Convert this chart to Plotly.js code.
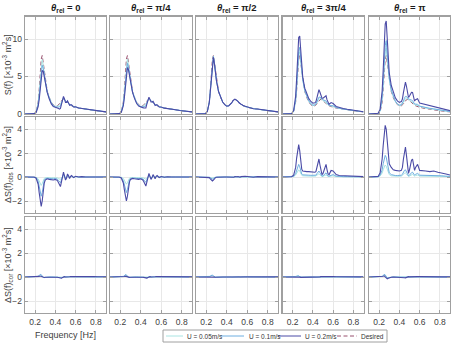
<!DOCTYPE html>
<html><head><meta charset="utf-8">
<script src="https://cdn.plot.ly/plotly-3.0.1.min.js"></script>
<style>html,body{margin:0;padding:0;background:#fff}#chart{width:454px;height:343px}</style>
</head><body><div id="chart"></div>
<script>
// ---------- data ----------
const freq = [0.10,0.15,0.19,0.21,0.23,0.24,0.25,0.26,0.27,0.28,0.29,0.30,0.32,0.34,0.36,0.38,0.40,0.42,0.43,0.44,0.45,0.46,0.47,0.48,0.49,0.50,0.51,0.52,0.53,0.54,0.55,0.56,0.58,0.60,0.63,0.66,0.70,0.74,0.78,0.82,0.86,0.90];
const columnTitles = ['0','π/4','π/2','3π/4','π'];
const seriesNames = ['U = 0.05m/s','U = 0.1m/s','U = 0.2m/s','Desired'];
const xTicks = [0.2,0.4,0.6,0.8];
const yTicksS = [0,5,10];
const yTicksD = [-2,0,2,4];

const desired = [0,0,0.05,0.3,1.6,3.2,5.2,7.3,7.8,6.8,5.5,4.4,3.0,2.2,1.6,1.25,1.05,1.1,1.2,1.35,1.55,1.75,1.9,1.95,1.9,1.8,1.65,1.5,1.38,1.28,1.18,1.1,0.98,0.9,0.8,0.72,0.63,0.55,0.47,0.4,0.34,0.28];

// Row 1: S(f) observed, per heading (col) and speed (a=0.05, b=0.1, c=0.2 m/s)
const s0_a = [0,0,0.05,0.28,1.45,2.85,4.6,6.6,7.25,6.5,5.38,4.34,2.96,2.15,1.54,1.19,1.0,1.02,1.08,1.17,1.35,1.65,1.93,2.05,1.92,1.74,1.63,1.56,1.4,1.25,1.19,1.13,0.97,0.92,0.8,0.72,0.63,0.55,0.47,0.4,0.34,0.28];
const s0_b = [0,0,0.05,0.25,1.25,2.4,3.8,5.7,6.5,6.1,5.2,4.25,2.9,2.08,1.45,1.1,0.93,0.92,0.92,0.93,1.07,1.5,1.98,2.19,1.96,1.65,1.59,1.65,1.44,1.21,1.21,1.17,0.95,0.94,0.8,0.74,0.63,0.55,0.47,0.4,0.34,0.28];
const s0_c = [0,0,0.05,0.2,1.0,1.9,3.0,4.85,5.8,5.7,5.0,4.15,2.85,2.0,1.35,1.0,0.85,0.8,0.75,0.65,0.75,1.35,2.05,2.35,2.0,1.55,1.55,1.75,1.48,1.16,1.23,1.22,0.93,0.96,0.8,0.75,0.63,0.55,0.47,0.4,0.34,0.28];
const s1_a = [0,0,0.05,0.28,1.48,2.9,4.7,6.7,7.32,6.55,5.4,4.35,2.97,2.16,1.55,1.2,1.01,1.04,1.1,1.2,1.37,1.66,1.93,2.03,1.91,1.75,1.64,1.55,1.39,1.24,1.19,1.13,0.97,0.91,0.8,0.72,0.63,0.55,0.47,0.4,0.34,0.28];
const s1_b = [0,0,0.05,0.25,1.3,2.55,4.1,6.0,6.75,6.25,5.25,4.28,2.92,2.1,1.48,1.13,0.95,0.95,0.95,1.0,1.1,1.53,1.96,2.13,1.93,1.68,1.62,1.62,1.41,1.19,1.21,1.17,0.95,0.92,0.79,0.73,0.63,0.55,0.47,0.4,0.34,0.28];
const s1_c = [0,0,0.05,0.22,1.1,2.15,3.4,5.3,6.2,5.9,5.1,4.2,2.88,2.05,1.4,1.05,0.9,0.85,0.8,0.75,0.8,1.35,2.0,2.25,1.95,1.6,1.6,1.7,1.43,1.13,1.23,1.22,0.93,0.94,0.78,0.74,0.63,0.56,0.47,0.4,0.34,0.28];
const s2_a = [0,0,0.05,0.3,1.59,3.17,5.14,7.22,7.74,6.77,5.49,4.4,3.0,2.2,1.6,1.25,1.05,1.1,1.2,1.35,1.54,1.75,1.9,1.96,1.9,1.8,1.66,1.5,1.38,1.29,1.19,1.1,0.99,0.91,0.8,0.72,0.64,0.55,0.47,0.4,0.34,0.28];
const s2_b = [0,0,0.05,0.3,1.58,3.13,5.06,7.13,7.67,6.74,5.48,4.39,3.0,2.2,1.6,1.25,1.05,1.1,1.2,1.34,1.53,1.76,1.89,1.97,1.9,1.81,1.67,1.5,1.37,1.3,1.21,1.11,1.01,0.92,0.81,0.71,0.65,0.56,0.47,0.4,0.34,0.28];
const s2_c = [0,0,0.05,0.3,1.55,3.05,4.92,6.97,7.55,6.68,5.45,4.38,3.0,2.2,1.6,1.25,1.05,1.1,1.2,1.33,1.51,1.77,1.88,1.98,1.9,1.82,1.69,1.5,1.36,1.31,1.23,1.12,1.04,0.94,0.82,0.7,0.66,0.57,0.47,0.41,0.34,0.28];
const s3_a = [0,0,0.05,0.33,1.77,3.55,5.75,7.9,8.3,7.06,5.64,4.5,3.08,2.28,1.68,1.32,1.12,1.17,1.28,1.5,1.79,2.02,2.08,2.03,1.94,1.85,1.75,1.66,1.56,1.38,1.22,1.14,1.06,1.0,0.84,0.74,0.65,0.56,0.48,0.41,0.34,0.28];
const s3_b = [0,0,0.06,0.36,1.9,3.8,6.15,8.35,8.9,7.25,5.75,4.58,3.15,2.35,1.75,1.39,1.18,1.23,1.35,1.63,2.0,2.25,2.25,2.1,1.98,1.9,1.85,1.8,1.73,1.48,1.26,1.17,1.13,1.1,0.87,0.76,0.66,0.58,0.49,0.42,0.35,0.29];
const s3_c = [0,0,0.07,0.45,2.4,4.8,7.65,10.2,10.4,8.0,6.15,4.9,3.45,2.65,2.05,1.67,1.45,1.5,1.65,2.15,2.85,3.25,2.9,2.35,2.1,2.1,2.25,2.4,2.43,1.88,1.43,1.3,1.53,1.4,1.0,0.84,0.73,0.63,0.53,0.45,0.38,0.31];
const s4_a = [0,0,0.06,0.38,1.93,3.8,6.1,8.3,8.8,7.4,5.83,4.6,3.1,2.28,1.66,1.31,1.11,1.18,1.32,1.57,1.85,2.08,2.15,2.05,1.95,1.88,1.8,1.7,1.6,1.42,1.26,1.22,1.14,0.98,0.88,0.79,0.7,0.62,0.53,0.45,0.38,0.31];
const s4_b = [0,0,0.07,0.45,2.2,4.3,6.8,9.1,9.8,7.9,6.1,4.75,3.2,2.35,1.72,1.37,1.17,1.25,1.42,1.75,2.1,2.35,2.35,2.15,2.0,1.95,1.93,1.86,1.78,1.53,1.33,1.32,1.28,1.05,0.95,0.86,0.76,0.69,0.58,0.5,0.41,0.33];
const s4_c = [0,0,0.1,0.65,3.1,5.8,9.0,12.0,12.4,10.0,7.1,5.5,3.8,2.8,2.15,1.75,1.55,1.65,2.0,2.85,3.75,4.25,3.7,2.75,2.2,2.4,2.75,2.9,2.88,2.18,1.73,1.9,2.03,1.45,1.35,1.22,1.08,1.05,0.87,0.75,0.59,0.45];

// Row 2: ΔS(f)_obs
const d0_a = [0,0,0,-0.02,-0.15,-0.35,-0.6,-0.7,-0.55,-0.3,-0.12,-0.06,-0.04,-0.05,-0.06,-0.06,-0.05,-0.08,-0.12,-0.18,-0.2,-0.1,0.03,0.1,0.02,-0.06,-0.02,0.06,0.02,-0.03,0.01,0.03,-0.01,0.02,0,0,0,0,0,0,0,0];
const d0_b = [0,0,0,-0.05,-0.35,-0.8,-1.4,-1.6,-1.3,-0.7,-0.3,-0.15,-0.1,-0.12,-0.15,-0.15,-0.12,-0.18,-0.28,-0.42,-0.48,-0.25,0.08,0.24,0.06,-0.15,-0.06,0.15,0.06,-0.07,0.03,0.07,-0.03,0.04,0,0.02,0,0,0,0,0,0];
const d0_c = [0,0,0,-0.1,-0.6,-1.3,-2.2,-2.45,-2.0,-1.1,-0.5,-0.25,-0.15,-0.2,-0.25,-0.25,-0.2,-0.3,-0.45,-0.7,-0.8,-0.4,0.15,0.4,0.1,-0.25,-0.1,0.25,0.1,-0.12,0.05,0.12,-0.05,0.06,0,0.03,0,0,0,0,0,0];
const d1_a = [0,0,0,-0.02,-0.12,-0.3,-0.5,-0.6,-0.48,-0.25,-0.1,-0.05,-0.03,-0.04,-0.05,-0.05,-0.04,-0.06,-0.1,-0.15,-0.18,-0.09,0.03,0.08,0.01,-0.05,-0.01,0.05,0.01,-0.04,0.01,0.03,-0.01,0.01,0,0,0,0,0,0,0,0];
const d1_b = [0,0,0,-0.05,-0.3,-0.65,-1.1,-1.3,-1.05,-0.55,-0.25,-0.12,-0.08,-0.1,-0.12,-0.12,-0.1,-0.15,-0.25,-0.35,-0.45,-0.22,0.06,0.18,0.03,-0.12,-0.03,0.12,0.03,-0.09,0.03,0.07,-0.03,0.02,-0.01,0.01,0,0,0,0,0,0];
const d1_c = [0,0,0,-0.08,-0.5,-1.05,-1.8,-2.0,-1.6,-0.9,-0.4,-0.2,-0.12,-0.15,-0.2,-0.2,-0.15,-0.25,-0.4,-0.6,-0.75,-0.4,0.1,0.3,0.05,-0.2,-0.05,0.2,0.05,-0.15,0.05,0.12,-0.05,0.04,-0.02,0.02,0,0.01,0,0,0,0];
const d2_a = [0,0,0,0,-0.01,-0.03,-0.06,-0.08,-0.06,-0.03,-0.01,0,0,0,0,0,0,0,0,0,-0.01,0,0,0.01,0,0,0.01,0,0,0.01,0.01,0,0.01,0.01,0,0,0.01,0,0,0,0,0];
const d2_b = [0,0,0,0,-0.02,-0.07,-0.14,-0.17,-0.13,-0.06,-0.02,-0.01,0,0,0,0,0,0,0,-0.01,-0.02,0.01,-0.01,0.02,0,0.01,0.02,0,-0.01,0.02,0.03,0.01,0.03,0.02,0.01,-0.01,0.02,0.01,0,0,0,0];
const d2_c = [0,0,0,0,-0.05,-0.15,-0.28,-0.33,-0.25,-0.12,-0.05,-0.02,0,0,0,0,0,0,0,-0.02,-0.04,0.02,-0.02,0.03,0,0.02,0.04,0,-0.02,0.03,0.05,0.02,0.06,0.04,0.02,-0.02,0.03,0.02,0,0.01,0,0];
const d3_a = [0,0,0,0.03,0.17,0.35,0.55,0.6,0.5,0.26,0.14,0.1,0.08,0.08,0.08,0.07,0.07,0.07,0.08,0.15,0.24,0.27,0.18,0.08,0.04,0.05,0.1,0.16,0.18,0.1,0.04,0.04,0.08,0.1,0.04,0.02,0.02,0.01,0.01,0.01,0,0];
const d3_b = [0,0,0.01,0.06,0.3,0.6,0.95,1.05,0.85,0.45,0.25,0.18,0.15,0.15,0.15,0.14,0.13,0.13,0.15,0.28,0.45,0.5,0.35,0.15,0.08,0.1,0.2,0.3,0.35,0.2,0.08,0.07,0.15,0.2,0.07,0.04,0.03,0.03,0.02,0.02,0.01,0.01];
const d3_c = [0,0,0.02,0.15,0.8,1.6,2.45,2.7,2.2,1.2,0.65,0.5,0.45,0.45,0.45,0.42,0.4,0.4,0.45,0.8,1.3,1.5,1.0,0.4,0.2,0.3,0.6,0.9,1.05,0.6,0.25,0.2,0.55,0.5,0.2,0.12,0.1,0.08,0.06,0.05,0.04,0.03];
const d4_a = [0,0,0.01,0.08,0.33,0.6,0.9,1.0,0.9,0.6,0.33,0.2,0.1,0.08,0.06,0.06,0.06,0.08,0.12,0.22,0.3,0.33,0.25,0.1,0.05,0.08,0.15,0.2,0.22,0.14,0.08,0.12,0.16,0.08,0.08,0.07,0.07,0.07,0.06,0.05,0.04,0.03];
const d4_b = [0,0,0.02,0.15,0.6,1.1,1.6,1.8,1.65,1.1,0.6,0.35,0.2,0.15,0.12,0.12,0.12,0.15,0.22,0.4,0.55,0.6,0.45,0.2,0.1,0.15,0.28,0.36,0.4,0.25,0.15,0.22,0.3,0.15,0.15,0.14,0.13,0.14,0.11,0.1,0.07,0.05];
const d4_c = [0,0,0.05,0.35,1.5,2.6,3.8,4.3,4.0,2.8,1.6,1.1,0.8,0.6,0.55,0.5,0.5,0.55,0.8,1.5,2.2,2.5,1.8,0.8,0.3,0.6,1.1,1.4,1.5,0.9,0.55,0.8,1.05,0.55,0.55,0.5,0.45,0.5,0.4,0.35,0.25,0.17];

// Row 3: ΔS(f)_cor
const c0_a = [0,0,0,0,0.04,0.1,0.17,0.15,0.04,-0.02,-0.03,-0.02,-0.01,0,0,0,0,-0.01,-0.02,-0.03,-0.03,-0.05,-0.02,0.01,0.01,0,0.01,0.02,0.01,0.01,0.02,0.02,0.02,0.02,0.01,0.02,0.01,0.01,0.01,0.01,0.01,0];
const c0_b = [0,0,0,0,0.05,0.12,0.22,0.2,0.05,-0.04,-0.05,-0.03,-0.02,0,0,0,0,-0.02,-0.03,-0.05,-0.05,-0.08,-0.03,0.02,0.02,0,0.02,0.03,0.02,0.02,0.03,0.03,0.03,0.03,0.02,0.03,0.02,0.02,0.02,0.02,0.01,0.01];
const c0_c = [0,0,0,0,0.02,0.05,0.08,0.05,-0.02,-0.05,-0.04,-0.02,-0.01,0,0,0,0,-0.02,-0.04,-0.06,-0.05,-0.1,-0.04,0.02,0.03,0,0.02,0.04,0.03,0.02,0.03,0.04,0.03,0.04,0.03,0.04,0.03,0.02,0.03,0.02,0.02,0.02];
const c1_a = [0,0,0,0,0.03,0.08,0.14,0.12,0.03,-0.02,-0.02,-0.01,0,0,0,0,0,-0.01,-0.02,-0.02,-0.03,-0.04,-0.02,0.01,0.01,0,0.01,0.01,0.01,0.01,0.02,0.02,0.01,0.02,0.01,0.01,0.01,0.01,0.01,0.01,0,0];
const c1_b = [0,0,0,0,0.05,0.11,0.2,0.18,0.05,-0.03,-0.04,-0.02,-0.01,0,0,0,0,-0.02,-0.03,-0.04,-0.05,-0.07,-0.03,0.02,0.02,0,0.02,0.02,0.02,0.02,0.03,0.03,0.02,0.03,0.02,0.02,0.02,0.02,0.01,0.01,0.01,0.01];
const c1_c = [0,0,0,0,0.02,0.04,0.07,0.04,-0.02,-0.04,-0.03,-0.02,-0.01,0,0,0,0,-0.02,-0.03,-0.05,-0.05,-0.09,-0.04,0.02,0.03,0,0.02,0.03,0.03,0.02,0.03,0.03,0.03,0.03,0.03,0.03,0.02,0.02,0.02,0.02,0.02,0.01];
const c2_a = [0,0,0,0,0.02,0.06,0.11,0.12,0.05,0,-0.01,0,0,0,0,0,0,0,0,0,-0.01,0,0,0.01,0,0.01,0,0.01,0,0.01,0.02,0.01,0.02,0.02,0.01,0.01,0.01,0.01,0,0.01,0,0];
const c2_b = [0,0,0,0,0.03,0.08,0.15,0.17,0.08,0.01,-0.02,-0.01,0,0,0,0,0,0,0,0,-0.01,0,-0.01,0.01,0,0.01,0.01,0.02,0,0.02,0.03,0.02,0.03,0.02,0.02,0.01,0.02,0.01,0.01,0.01,0.01,0];
const c2_c = [0,0,0,0,0.01,0.03,0.05,0.05,0.02,-0.01,-0.02,-0.01,0,0,0,0,0,0,0,-0.01,-0.02,0.01,-0.01,0.02,0,0.02,0.01,0.03,0,0.02,0.03,0.02,0.04,0.03,0.02,0.01,0.02,0.02,0.01,0.01,0.01,0.01];
const c3_a = [0,0,0,0,0.02,0.05,0.09,0.08,0.03,-0.01,-0.01,0,0,0,0,0,0,0,0,0,-0.01,-0.01,0,0.01,0,0.01,0.01,0.01,0,0.01,0.01,0.01,0.02,0.01,0.01,0.01,0.01,0,0.01,0,0,0];
const c3_b = [0,0,0,0,0.03,0.07,0.12,0.1,0.03,-0.02,-0.02,-0.01,0,0,0,0,0,0,-0.01,-0.02,-0.03,-0.02,0.01,0.02,0.01,0.01,0.02,0.01,0.01,0.02,0.02,0.01,0.03,0.02,0.02,0.01,0.02,0.01,0.01,0.01,0,0];
const c3_c = [0,0,0,0,0.01,0.03,0.05,0.03,-0.01,-0.03,-0.03,-0.02,-0.01,0,0,0,0,-0.01,-0.02,-0.04,-0.05,-0.03,0.01,0.03,0.02,0.01,0.03,0.02,0.01,0.03,0.03,0.02,0.04,0.03,0.02,0.02,0.03,0.02,0.02,0.01,0.01,0.01];
const c4_a = [0,0,0,0,0.04,0.1,0.15,0.12,0,-0.06,-0.05,-0.03,-0.01,0,0,0,0,0,-0.01,-0.02,-0.03,-0.03,-0.01,0.01,0.01,0.01,0.01,0.01,0,0.01,0.01,0.01,0.01,0.01,0,0.01,0.01,0,0.01,0,0,0];
const c4_b = [0,0,0,0,0.05,0.13,0.22,0.18,0.02,-0.1,-0.08,-0.04,-0.02,0,0,0,0,-0.01,-0.02,-0.03,-0.05,-0.06,-0.02,0.01,0.02,0.01,0.02,0.02,0.01,0.02,0.02,0.02,0.02,0.02,0.01,0.02,0.01,0.01,0.01,0.01,0,0];
const c4_c = [0,0,0,0,0.02,0.06,0.1,0.04,-0.08,-0.15,-0.1,-0.05,-0.02,0,0,0,0,-0.01,-0.03,-0.04,-0.06,-0.07,-0.03,0.02,0.03,0.01,0.02,0.03,0.02,0.03,0.03,0.02,0.03,0.03,0.02,0.02,0.02,0.02,0.02,0.01,0.01,0.01];

// ---------- styling / layout ----------
const rows = [
  [[s0_a,s0_b,s0_c],[s1_a,s1_b,s1_c],[s2_a,s2_b,s2_c],[s3_a,s3_b,s3_c],[s4_a,s4_b,s4_c]],
  [[d0_a,d0_b,d0_c],[d1_a,d1_b,d1_c],[d2_a,d2_b,d2_c],[d3_a,d3_b,d3_c],[d4_a,d4_b,d4_c]],
  [[c0_a,c0_b,c0_c],[c1_a,c1_b,c1_c],[c2_a,c2_b,c2_c],[c3_a,c3_b,c3_c],[c4_a,c4_b,c4_c]]
];
const colors = ['#a9e4e2','#6eaee0','#4a4aa6','#98506e'];
const W = 454, H = 343;
const colPx = [[25,106],[110,192],[196,278],[282.5,363.5],[369,450]];
const rowPx = [[16.5,114],[117,213],[217,313]];
const yRanges = [[0,13],[-3,5],[-3,5]];
const fontFam = 'Liberation Sans, Arial, sans-serif';

const traces = [];
const layout = {
  width: W, height: H, margin: {l:0,r:0,t:0,b:0},
  paper_bgcolor: '#fff', plot_bgcolor: '#fff',
  showlegend: false, font: {family: fontFam, size: 8, color: '#404040'},
  annotations: [], shapes: []
};

for (let r = 0; r < 3; r++) {
  for (let c = 0; c < 5; c++) {
    const k = r*5 + c + 1;
    const xa = 'xaxis' + (k === 1 ? '' : k), ya = 'yaxis' + (k === 1 ? '' : k);
    const xr = 'x' + (k === 1 ? '' : k), yr = 'y' + (k === 1 ? '' : k);
    const common = {
      showgrid: true, gridcolor: '#e8e8e8', gridwidth: 1,
      showline: true, mirror: 'ticks', linecolor: '#a0a0a0', linewidth: 1.3,
      ticks: 'inside', ticklen: 3, tickcolor: '#a0a0a0', tickwidth: 1,
      zeroline: false, fixedrange: true,
      tickfont: {family: fontFam, size: 8.5, color: '#404040'}
    };
    layout[xa] = Object.assign({}, common, {
      domain: [colPx[c][0]/W, colPx[c][1]/W], range: [0.1, 0.9],
      tickmode: 'array', tickvals: xTicks, ticktext: xTicks.map(v => v.toFixed(1)),
      showticklabels: r === 2, anchor: yr
    });
    layout[ya] = Object.assign({}, common, {
      domain: [1 - rowPx[r][1]/H, 1 - rowPx[r][0]/H], range: yRanges[r],
      tickmode: 'array', tickvals: r === 0 ? yTicksS : yTicksD,
      showticklabels: c === 0, anchor: xr
    });
    const set = rows[r][c];
    if (r === 0) {
      traces.push({x: freq, y: desired, xaxis: xr, yaxis: yr, type: 'scatter', mode: 'lines',
        name: seriesNames[3], line: {color: colors[3], width: 1, dash: '4px,2.5px'}, hoverinfo: 'skip'});
    }
    for (let s = 0; s < 3; s++) {
      traces.push({x: freq, y: set[s], xaxis: xr, yaxis: yr, type: 'scatter', mode: 'lines',
        name: seriesNames[s], line: {color: colors[s], width: s === 2 ? 1.1 : 1}, hoverinfo: 'skip'});
    }
  }
}

// column titles
for (let c = 0; c < 5; c++) {
  layout.annotations.push({
    xref: 'paper', yref: 'paper', x: (colPx[c][0]+colPx[c][1])/2/W, y: 1 - 8/H,
    xanchor: 'center', yanchor: 'middle', showarrow: false,
    text: '<b><i>θ</i><sub>rel</sub> = ' + columnTitles[c] + '</b>',
    font: {family: fontFam, size: 9.5, color: '#1a1a1a'}
  });
}
// y-axis titles
const yTitles = [
  'S(f) [×10<sup>-3</sup> m<sup>2</sup>s]',
  'ΔS(f)<sub>obs</sub> [×10<sup>-3</sup> m<sup>2</sup>s]',
  'ΔS(f)<sub>cor</sub> [×10<sup>-3</sup> m<sup>2</sup>s]'
];
for (let r = 0; r < 3; r++) {
  layout.annotations.push({
    xref: 'paper', yref: 'paper', x: 7/W, y: 1 - (rowPx[r][0]+rowPx[r][1])/2/H,
    xanchor: 'center', yanchor: 'middle', showarrow: false, textangle: -90,
    text: yTitles[r], font: {family: fontFam, size: 9, color: '#404040'}
  });
}
// x-axis title
layout.annotations.push({
  xref: 'paper', yref: 'paper', x: 65.5/W, y: 1 - 335/H, xanchor: 'center', yanchor: 'middle',
  showarrow: false, text: 'Frequency [Hz]', font: {family: fontFam, size: 9, color: '#404040'}
});

// legend (drawn as layout items)
const legBox = [163, 330, 387, 342];
layout.shapes.push({type: 'rect', xref: 'paper', yref: 'paper',
  x0: legBox[0]/W, x1: legBox[2]/W, y0: 1 - legBox[3]/H, y1: 1 - legBox[1]/H,
  line: {color: '#a0a0a0', width: 1}, fillcolor: '#fff'});
const legItems = [[166,183,185],[221,244,246.5],[278,301,303],[337,357,359]];
const legY = 1 - 336/H;
for (let i = 0; i < 4; i++) {
  layout.shapes.push({type: 'line', xref: 'paper', yref: 'paper',
    x0: legItems[i][0]/W, x1: legItems[i][1]/W, y0: legY, y1: legY,
    line: {color: colors[i], width: 1, dash: i === 3 ? '4px,2.5px' : 'solid'}});
  layout.annotations.push({xref: 'paper', yref: 'paper', x: legItems[i][2]/W, y: legY,
    xanchor: 'left', yanchor: 'middle', showarrow: false, text: seriesNames[i],
    font: {family: fontFam, size: 6.5, color: '#333'}});
}

Plotly.newPlot('chart', traces, layout, {staticPlot: true, displayModeBar: false});
</script>
</body></html>
